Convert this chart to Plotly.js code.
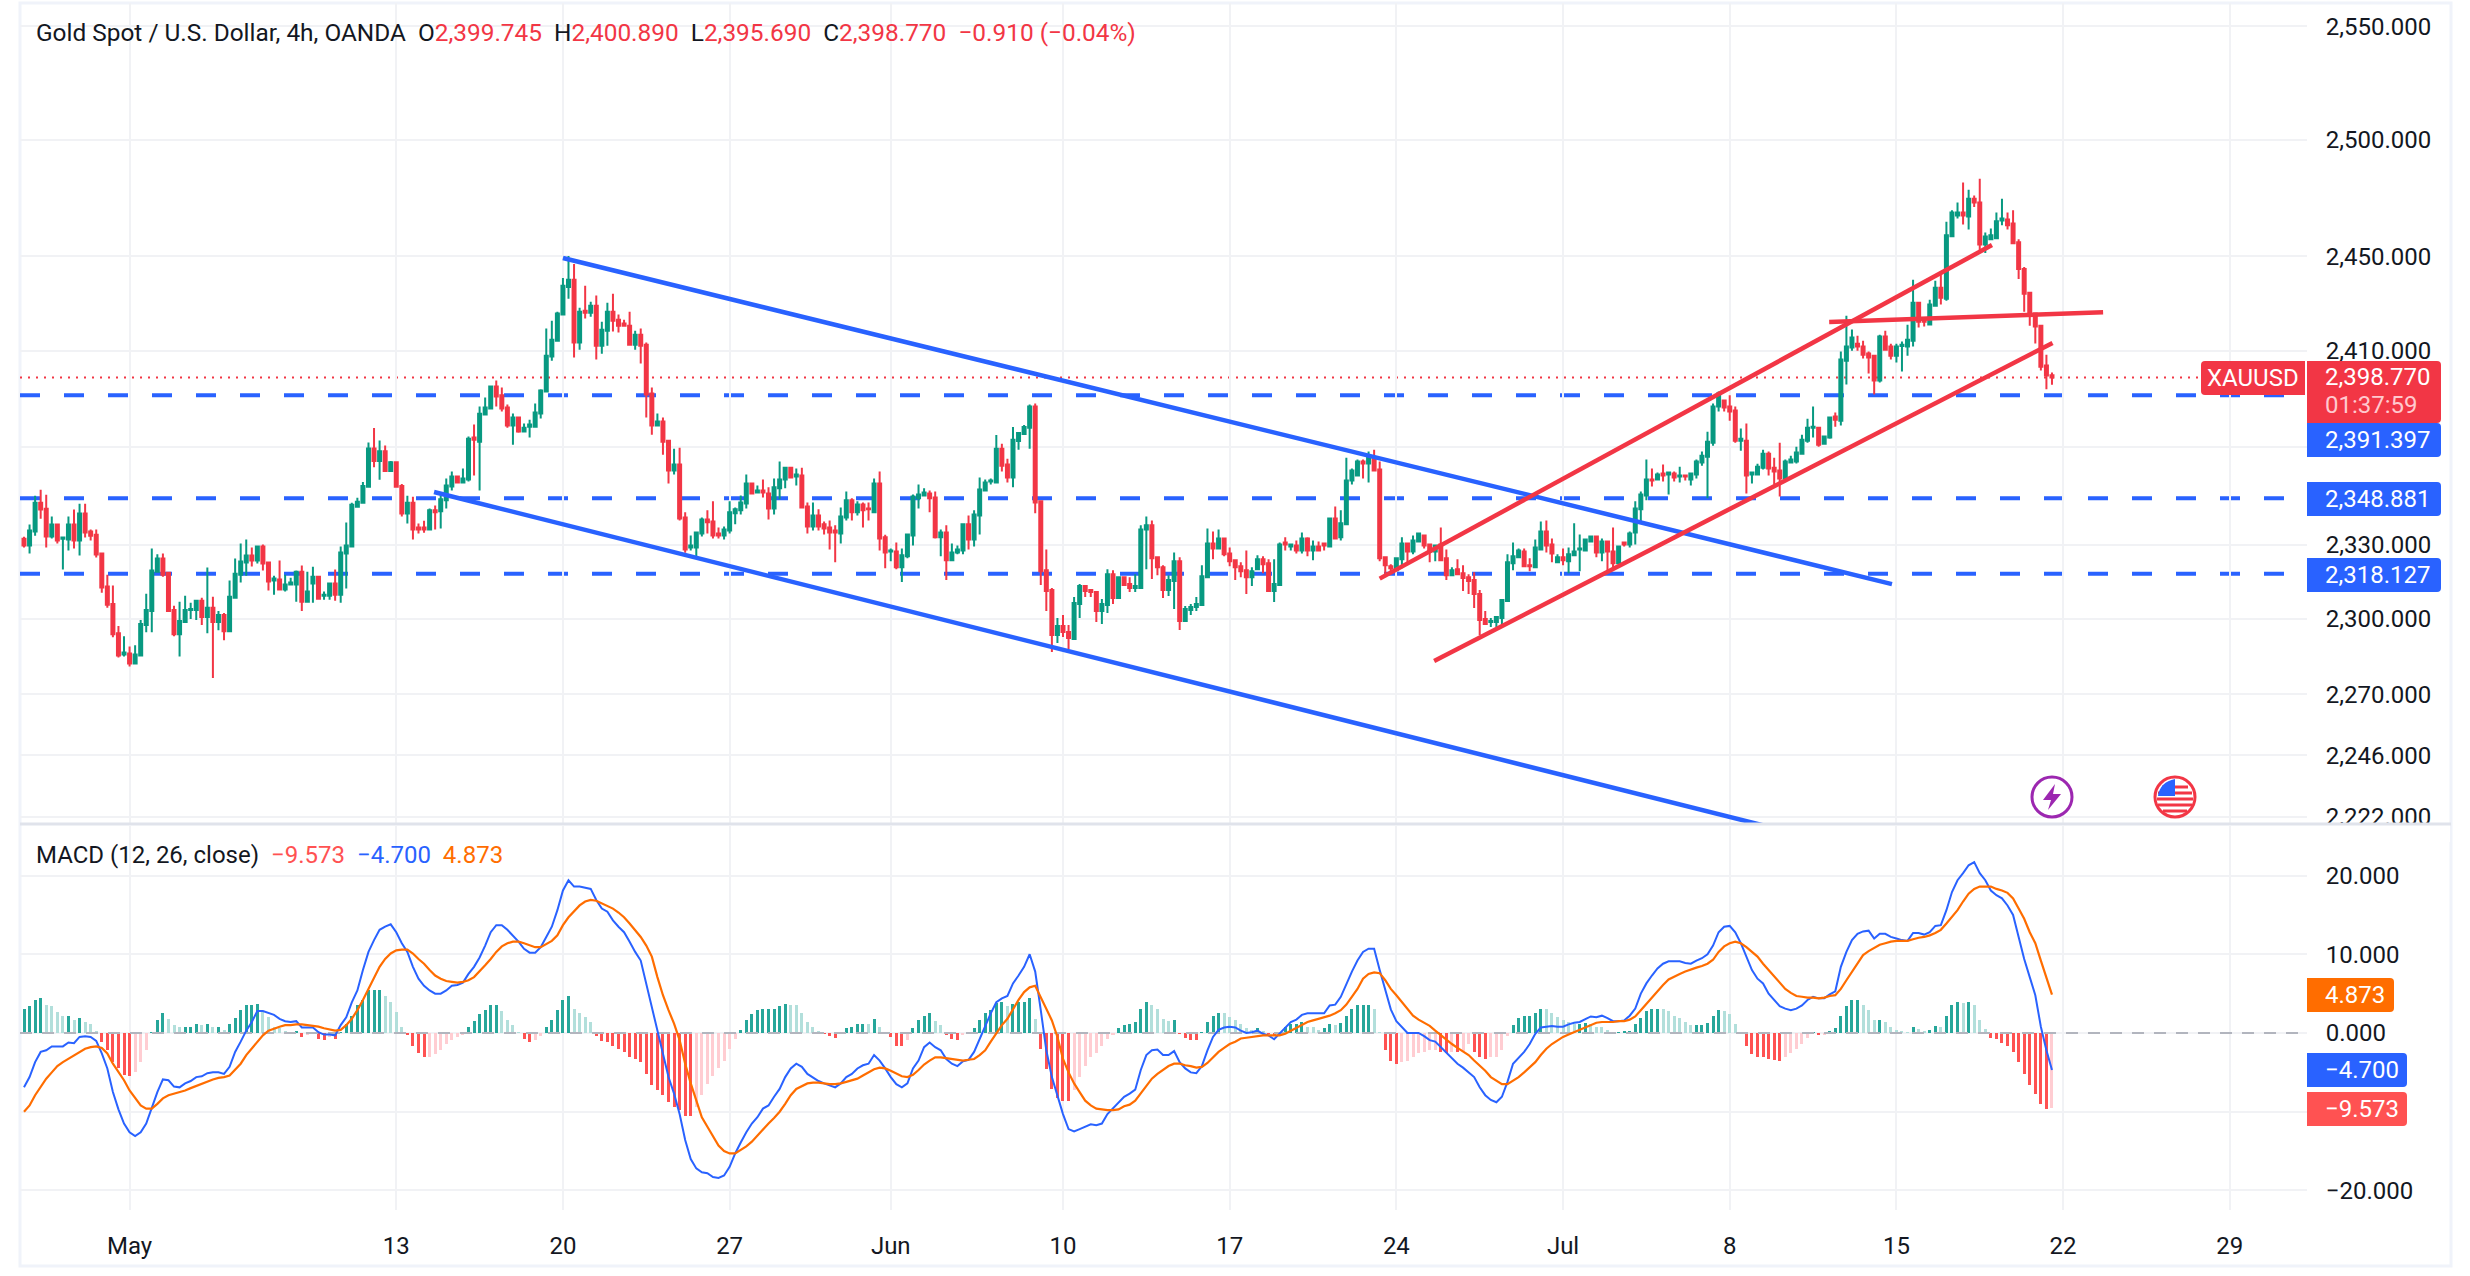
<!DOCTYPE html>
<html><head><meta charset="utf-8">
<script src="https://cdn.plot.ly/plotly-3.0.1.min.js"></script>
<style>html,body{margin:0;padding:0;background:#fff}#c{width:2470px;height:1276px}</style>
</head><body><div id="c"></div>
<script>
const open = [2332.3,2329.6,2335.3,2347,2344.6,2333.2,2338.1,2332.3,2332,2338.1,2331.6,2342.6,2335.3,2334,2326.4,2313,2306,2294.3,2285.8,2286.2,2282.2,2285.4,2297.6,2303.2,2319,2324.3,2318.6,2303.6,2293.9,2298.8,2303.6,2303.6,2307.3,2300.8,2304.5,2298.8,2301.6,2295.1,2308.5,2317.8,2322.7,2325.5,2323.5,2329.2,2322.7,2315.4,2315.8,2311.8,2313.8,2313.8,2319,2306.9,2314.2,2317,2309.3,2309.3,2314.2,2309.7,2326.4,2329.2,2345.4,2347,2353.5,2369.3,2364.1,2368.1,2360,2363.6,2353.9,2342.6,2347,2336.9,
2336.9,2336.1,2343.9,2343.5,2348,2353.7,2357.8,2355.3,2356.5,2373.8,2372.1,2383.3,2385.8,2395,2391.3,2386.3,2378.8,2382.1,2376.3,2378.3,2378.3,2383.8,2392.9,2407.5,2414.2,2425.2,2436.9,2439.9,2413.4,2426.8,2426,2428.9,2412.1,2418.4,2426.4,2423,2421.4,2420.5,2412.5,2416.7,2412.5,2392.1,2378.8,2380.4,2372.5,2360.2,2362.7,2341,2328.8,2328.8,2334.5,2340.2,2339.4,2334.5,2333.7,2335.7,2342.7,2343.9,2346.7,2354.9,2351.2,2352,2350.8,2344.7,2352.9,2356.5,2361.4,2357.8,2358.2,2345.5,
2337.3,2341.8,2338.2,2336.9,2335.7,2334.5,2341,2348,2343.1,2346.3,2344.7,2343.1,2354.9,2332.9,2327.2,2327.2,2320.8,2325.2,2333.7,2348.8,2350,2350.8,2349.2,2332.9,2334.9,2323.6,2326.8,2327.6,2338.2,2332,2341.8,2352,2355.7,2355.3,2369.2,2362.7,2357.3,2372.4,2375.3,2377.9,2386.7,2347.6,2319.6,2311.6,2293.6,2297.2,2294.8,2292,2306,2313.2,2311.6,2310.8,2303.2,2305.6,2318,2308.4,2316.8,2314,2312.4,2312.4,2336.1,2337.8,2324.8,2320.8,2311.6,2315.2,2323.2,2299.2,2303.6,2304.8,2305.6,2316.8,2330.4,2328.4,
2332.4,2326.4,2323.6,2321.2,2319.6,2316.8,2320,2324,2322.4,2311.2,2313.6,2330.8,2329.2,2329.6,2327.6,2332.4,2327.6,2329.2,2330.4,2329.2,2340.6,2332.9,2338.2,2356.1,2358.2,2363.9,2363.1,2365.1,2360.6,2324.8,2321.2,2319.6,2324,2330.4,2327.2,2331.2,2333.7,2330,2327.2,2330,2324.4,2317.6,2320,2318.4,2316.8,2315.6,2310,2300,2298.8,2298.8,2300.4,2307.2,2322.4,2324.8,2327.2,2321.6,2320.8,2328,2335.3,2330,2322.8,2324.8,2323.2,2325.6,2328,2327.6,2331.2,2333.3,2326.8,2331.2,2327.2,2322.4,2330.8,2330,
2334.9,2344.3,2350,2356.5,2356.5,2359,2358.6,2359,2357.8,2358.2,2356.5,2358.6,2363.5,2365.9,2371.7,2386.7,2389.2,2386.7,2385,2372.5,2372.5,2358.6,2358.6,2361.4,2367.1,2361.4,2360.2,2356.9,2363.5,2363.9,2367.1,2372.5,2377.9,2377.9,2371.2,2373.8,2382.5,2380.8,2405.8,2411.3,2412.9,2411.7,2408.8,2407.9,2397.5,2415.9,2411.7,2407.9,2412,2411.7,2414.2,2430.2,2423,2421,2428.9,2436.5,2431.9,2458.5,2467.4,2468.7,2467,2474.6,2473,2455,2457.2,2457.6,2465.2,2465.7,2464,2455.9,2444.5,2434.4,2425.6,2420.5,2403.8,2399.745];
const high = [2333.1,2338.1,2349.9,2352.3,2350.3,2341.4,2338.1,2333.2,2341.4,2344.2,2346.6,2346.6,2336.1,2336.1,2326.4,2317.8,2313.4,2297.2,2293.1,2289,2289.5,2299.6,2310.1,2328.4,2326,2326.4,2319,2305.3,2306.9,2309.3,2306.5,2307.7,2308.5,2320.7,2308.9,2303.2,2302.4,2315.4,2324.3,2330.4,2332,2328.8,2329.6,2330,2323.1,2317.4,2323.5,2317.8,2316.6,2319.5,2321.5,2319,2321,2317.4,2311,2314.6,2319.9,2329.2,2338.9,2347,2349,2355.5,2371.8,2377.8,2372.6,2370.5,2364.1,2363.6,2354.7,2349.9,2349.5,2338.5,
2339.7,2344.7,2345.9,2350,2356.9,2359.8,2357.8,2361,2374.2,2379.2,2386.7,2390.4,2395,2397.5,2394.6,2387.5,2383.8,2382.5,2379.6,2381.2,2387.9,2393.8,2419.3,2422.6,2426.4,2440.7,2450,2446.6,2428.1,2437.4,2430.6,2433.2,2422.2,2430.2,2434,2425.2,2423,2426.4,2418.4,2419.3,2413.4,2394.6,2383.8,2382.1,2372.5,2369.2,2369.6,2343.1,2333.7,2335.3,2341,2343.9,2347.6,2336.9,2337.3,2347.6,2345.1,2350,2358.6,2355.3,2354.1,2356.5,2353.3,2356.9,2363.9,2361.4,2361.4,2361,2361.4,2347.1,
2347.1,2344.3,2339.4,2339.8,2337.8,2345.1,2351.6,2348.8,2347.6,2347.1,2347.1,2356.9,2359.8,2334,2328.4,2330.8,2328.4,2334.5,2350.4,2354.5,2352.9,2352,2351.6,2336.1,2337.8,2330.4,2329.6,2338.2,2341.8,2343.9,2357.3,2356.5,2356.9,2374.9,2371.2,2365.1,2378.2,2376.1,2379,2387.5,2387.9,2347.6,2328,2312.4,2300.4,2301.6,2297.6,2308.8,2314,2313.6,2312,2310.8,2308,2320,2319.6,2317.2,2317.2,2316.8,2318,2337.8,2341.4,2339.8,2324.8,2321.6,2317.6,2326.8,2324.8,2305.2,2306,2308.8,2321.6,2336.5,2335.3,2336.1,
2332.4,2328.8,2323.6,2322.8,2327.6,2320.8,2325.6,2325.2,2324,2324,2330.8,2332.9,2330,2331.6,2334.9,2332.9,2331.6,2331.2,2330.4,2341,2345.5,2343.9,2365.5,2361,2364.7,2364.7,2368,2368.8,2363.9,2325.2,2322,2324.4,2332.9,2330.8,2333.7,2334.5,2334.1,2330.4,2330,2336.9,2328,2320.8,2324,2321.6,2318,2318.8,2311.6,2303.2,2300.4,2301.2,2307.6,2326,2330.8,2328.4,2328.4,2324.4,2332,2339.4,2339.8,2332.4,2326,2328.4,2328.8,2338.6,2334.1,2332.4,2333.7,2333.7,2332.4,2331.6,2336.9,2329.2,2331.2,2335.3,
2347.6,2351.6,2364.7,2361,2359.4,2362.7,2359.8,2359.8,2361.8,2358.6,2359,2364.7,2368,2376.2,2387.9,2392.9,2389.6,2391.3,2386.7,2377.5,2379.6,2359.8,2363,2368.8,2368,2365.5,2371.7,2364.7,2366.3,2370,2375,2381.6,2386.7,2378.3,2374.2,2382.5,2384.2,2409.6,2424.7,2418.9,2416.3,2414.2,2409.6,2407.9,2416.7,2418.4,2412.9,2412.9,2413.8,2420.9,2439.9,2430.2,2423,2431.5,2439.5,2443.7,2464.7,2469.6,2473,2481.6,2478.5,2476,2483.2,2460.1,2461.8,2468.7,2474.6,2468.7,2469.6,2457.2,2445.4,2434.4,2426,2420.9,2408.3,2400.89];
const low = [2328.8,2326.4,2333.6,2340.5,2328.8,2332.4,2330.4,2319.9,2327.6,2328.4,2325.5,2332.8,2331.6,2324.7,2310.5,2304.5,2292.7,2284.6,2285,2281,2282.2,2285.4,2294.7,2294.7,2319,2317,2302.8,2293.1,2285,2298.8,2300,2299.6,2297.6,2294.3,2276.5,2295.5,2291.5,2295.1,2308.5,2314.6,2317.4,2321.1,2322.3,2319.5,2311.4,2309.7,2311.8,2311,2313.8,2306.9,2303.2,2306.9,2306.5,2307.7,2307.7,2307.7,2307.3,2306.5,2312.2,2329.2,2345,2347,2353.5,2361.6,2356.4,2359.6,2359.6,2353.5,2341.4,2338.5,2332,2334.5,
2334.8,2336.1,2336.1,2336.5,2344.7,2352,2354.9,2354.9,2355.7,2358.2,2352,2383.3,2385.8,2386.7,2384.6,2377.9,2370.8,2375.8,2376.3,2373.8,2378.3,2381.7,2392.9,2405.8,2414.2,2425.2,2431.9,2407.1,2410.4,2423.5,2424.3,2406.3,2408.7,2412.1,2418,2417.6,2420.5,2412.1,2410.4,2404.6,2382.1,2375,2378.8,2366.7,2354.9,2358.6,2339.8,2326.7,2327.6,2325.1,2333.3,2334.5,2332.4,2332.4,2332,2334.5,2338.2,2342.2,2344.7,2350.8,2350.8,2349.2,2340.2,2342.2,2348.4,2352.9,2357.3,2354.1,2345.1,2334.5,
2335.7,2335.7,2334.1,2328,2322.8,2330.4,2339.8,2339.8,2341.8,2336.9,2339.8,2343.1,2327.6,2320.4,2323.2,2320,2314.8,2324.4,2329.6,2344.7,2349.6,2343.1,2332.4,2325.2,2315.6,2323.6,2326,2326,2328,2329.2,2334.1,2351.6,2354.5,2355.3,2359.8,2355.3,2353.3,2368.8,2375.3,2369.2,2342.7,2313.6,2303.2,2286.8,2290.4,2292.8,2288,2292,2300.4,2308.8,2308.8,2298.8,2298,2302.4,2306,2308,2313.6,2310.8,2310.8,2312.4,2320,2316,2317.6,2308.4,2309.2,2304,2295.6,2299.2,2301.6,2303.2,2305.6,2316.8,2324,2328.4,
2325.2,2321.2,2315.6,2316.8,2310,2313.2,2319.6,2318.4,2310.8,2306.8,2313.6,2327.6,2327.6,2326.4,2326.4,2325.2,2323.6,2327.6,2327.6,2329.2,2332.4,2331.6,2338.2,2354.5,2358.2,2356.9,2355.3,2360.2,2323.2,2317.2,2318,2319.2,2320.4,2322.4,2326,2331.2,2328.4,2322.8,2323.2,2323.6,2315.6,2317.2,2318,2311.2,2310,2304.4,2293.6,2297.6,2296.8,2296.8,2296.8,2307.2,2319.6,2324.8,2321.2,2319.2,2320.8,2327.6,2326.8,2322.8,2322.4,2321.6,2318.4,2325.6,2319.2,2327.2,2331.2,2324.8,2323.2,2318.8,2320,2322,2329.2,2328.8,
2330,2339.4,2348,2353.7,2356.1,2355.7,2350.4,2355.7,2355.3,2356.1,2354.1,2356.9,2362.2,2348.8,2370.4,2384.6,2384.6,2380.8,2371.7,2368.4,2350.8,2354.9,2358.6,2360.6,2358.2,2354.5,2349.6,2356.9,2363.1,2363.1,2367.1,2371.7,2373.8,2370,2371.2,2373.3,2378.3,2378.8,2395.8,2410,2410,2406.7,2400.4,2391.7,2396.7,2410.4,2406.3,2405,2401.3,2407.9,2411.7,2419.7,2420.1,2421,2428.9,2429.4,2431,2458.5,2466.1,2463.5,2461.4,2471,2452.6,2451.3,2457.2,2457.6,2463.2,2461.4,2455.5,2440.3,2426.4,2420.5,2413,2401.7,2393.8,2395.69];
const close = [2329.6,2335.7,2347,2344.2,2333.2,2338.1,2331.6,2332.8,2338.1,2331.6,2342.6,2334.9,2333.6,2325.9,2312.6,2305.7,2293.9,2285.4,2286.6,2282.2,2285.8,2298,2303.6,2319.5,2324.3,2317.8,2303.2,2293.9,2299.2,2303.6,2304,2307.3,2300.8,2304.5,2298.8,2301.6,2295.1,2308.9,2318.2,2323.1,2325.5,2323.5,2329.2,2322.3,2315,2316.2,2311.8,2313.8,2314.6,2319,2306.9,2311,2317,2308.1,2309.7,2314.2,2309.7,2326.8,2329.6,2346.2,2347.4,2353.9,2369.3,2364.1,2368.1,2360,2363.6,2353.5,2342.6,2347,2336.1,2336.1,
2336.1,2343.9,2343.1,2348.4,2354.1,2357.8,2355.3,2356.9,2373.3,2372.9,2383.7,2386.3,2395,2390.8,2385.8,2378.8,2382.1,2376.3,2377.9,2379.2,2384.2,2393.3,2407.9,2414.6,2425.6,2437.4,2439.9,2413.4,2426.4,2426,2428.9,2412.1,2418.8,2426.4,2422.6,2420.5,2420.5,2412.5,2416.7,2412.1,2391.7,2378.8,2380.4,2372.1,2360.2,2362.7,2340.6,2328,2329.6,2334.9,2340.2,2339,2333.7,2333.7,2336.1,2343.1,2344.3,2347.1,2354.9,2350.8,2352,2351.2,2344.7,2353.3,2356.5,2361.4,2357.3,2358.6,2345.1,2337.3,
2341.8,2337.3,2336.5,2334.9,2334.9,2341.4,2348,2343.1,2346.3,2343.9,2344.3,2354.9,2332.4,2326.8,2327.6,2320.8,2325.6,2334.1,2349.6,2350.4,2351.2,2348.8,2332.9,2334.9,2323.6,2326.8,2328,2338.2,2332,2342.2,2352.4,2355.3,2356.1,2369.2,2362.2,2357.3,2372.9,2375.7,2378.2,2386.7,2347.1,2319.2,2311.2,2293.6,2297.2,2294.8,2292.4,2306.4,2313.2,2311.2,2310.8,2303.2,2306,2318,2308.4,2316.8,2313.6,2312.4,2313.2,2336.1,2337.8,2324.4,2320.8,2311.6,2315.6,2323.2,2299.2,2304,2304.8,2306,2317.2,2330.4,2328.4,2332.4,
2326,2323.2,2320.8,2319.2,2316.8,2319.2,2324,2322,2311.2,2314,2330,2330,2330,2327.6,2332.4,2327.6,2329.2,2327.6,2329.6,2340.6,2332.4,2338.6,2356.1,2360.2,2363.9,2363.1,2365.5,2360.2,2324.4,2321.6,2320.4,2324.4,2330.4,2327.2,2331.6,2334.5,2329.6,2327.2,2329.6,2323.6,2317.6,2319.6,2318,2316.4,2315.2,2310,2299.6,2298,2299.2,2300.8,2307.6,2322.8,2325.2,2327.6,2321.2,2321.2,2328.8,2335.3,2329.6,2326.4,2324.8,2323.6,2326,2327.2,2328.4,2332,2333.3,2326.8,2331.2,2327.2,2322.4,2329.2,2330,2334.5,
2344.7,2350.4,2356.5,2356.1,2358.6,2358.2,2359.4,2357.3,2358.2,2357.8,2359,2363.9,2366.3,2372.1,2386.7,2392.1,2386.3,2384.6,2372.5,2373.3,2358.2,2359.4,2361.8,2367.1,2361,2359.8,2356.9,2363.9,2364.7,2367.6,2372.9,2377.9,2378.3,2370.8,2374.2,2382.1,2381.2,2406.3,2411.7,2415.5,2411.7,2408.3,2407.1,2397.5,2415.9,2410.4,2407.9,2411.7,2412.5,2414.6,2430.2,2422.2,2422.2,2429.4,2436.5,2432.3,2458.9,2468.7,2468.7,2467.4,2474.6,2473,2455,2458.4,2458.9,2464.9,2466.1,2463.2,2455.5,2444.5,2434,2425.6,2420.1,2403.3,2399.6,2398.77];
const macdLine = [-6.9,-5.6,-3.7,-2.4,-2.2,-1.7,-1.7,-1.7,-1.2,-1.3,-.5,-.4,-.5,-1,-2.6,-4.5,-7.5,-9.7,-11.5,-12.6,-13.1,-12.6,-11.5,-9.4,-7.5,-5.9,-6,-6.8,-6.9,-6.4,-6.1,-5.6,-5.5,-5.1,-5,-5,-5.2,-4.3,-2.4,-1.1,.3,1.4,2.8,2.8,2.5,2.3,1.8,1.5,1.4,1.5,.7,.7,.7,.1,-.2,-.2,-.3,1,2,3.9,5.4,8,10.3,11.8,13.1,13.5,13.8,12.8,11.4,10.3,8.4,6.9,6,5.4,5,5,5.4,6,6.1,6.4,7.5,8.4,9.6,11.1,12.8,13.7,13.7,13.1,12.4,11.6,10.7,10.2,10.2,10.9,12.2,13.5,15.6,18.1,19.4,18.6,18.6,18.4,18.3,16.9,15.8,15.4,14.3,13.5,12.8,11.6,10.3,9.2,6.3,3.3,.3,-2.6,-5.6,-7.7,-10.3,-13.6,-16,-17.2,-17.7,-17.8,-18.3,-18.4,-18.1,-17,-15.3,-13.9,-12.6,-11.5,-10.7,-9.6,-9.2,-8.1,-7.1,-5.6,-4.5,-3.9,-4.3,-5.2,-5.7,-6.1,
-6.4,-6.7,-6.9,-6.4,-5.6,-5.2,-4.5,-4.1,-3.9,-2.8,-3.5,-4.5,-5.6,-6.5,-6.9,-6.4,-4.5,-3.5,-1.8,-1.2,-1.8,-2.2,-3.3,-3.9,-4.2,-3.6,-3.4,-2.4,-.7,.8,2.5,3.9,4.4,4.7,6.3,7.3,8.4,10,7.8,2.9,-2.2,-5.6,-8.1,-10.3,-12.2,-12.5,-12.2,-11.9,-11.6,-11.7,-11.5,-10.3,-9.6,-8.8,-8.1,-7.7,-7.2,-4.7,-2.8,-2.2,-2.1,-2.8,-2.8,-2.3,-3.7,-4.5,-5,-5.1,-4.2,-2.2,-.5,.4,.7,.8,.7,.3,0,.1,.3,-.1,-.3,-.8,-.1,.6,1.4,1.7,2.3,2.5,2.5,2.5,2.5,3.5,3.6,4.6,6.3,7.8,9.2,10.3,10.7,10.7,8,5.4,3,1.5,.8,0,0,0,-.4,-.9,-1.1,-1.8,-2.5,-3.3,-3.9,-4.4,-5,-5.6,-6.9,-7.9,-8.5,-8.8,-8.1,-6.2,-3.9,-3.1,-2.4,-1.4,-.1,.7,.8,.9,.8,.8,1.1,1.3,1.4,1.7,2.1,2,2.2,1.9,1.5,1.5,
1.6,2.2,3.1,5,6.3,7.3,8.2,8.8,9.1,9.1,9.1,8.9,8.8,9.2,9.5,10,11.1,12.8,13.5,13.6,12.8,11.4,9.7,8,6.9,6.3,5,4.2,3.4,3.1,2.9,3.1,3.5,4.2,4.6,4.4,4.4,4.9,5.3,8.4,10.3,11.8,12.6,12.9,13,12,12.6,12.6,12.2,12,11.8,11.7,12.7,12.7,12.5,12.8,13.6,13.7,15.6,17.9,19.4,20.3,21.3,21.7,20.3,19.4,18.1,17.5,17.1,16.2,15,12.2,9.4,7.1,4.8,.8,-2.2,-4.7];
const signalLine = [-10,-9.2,-7.9,-6.8,-5.8,-5,-4.2,-3.7,-3.3,-2.8,-2.4,-2,-1.8,-1.7,-1.9,-2.6,-3.9,-5,-6,-7.3,-8.3,-9.2,-9.6,-9.6,-9,-8.3,-7.9,-7.7,-7.5,-7.3,-7,-6.7,-6.4,-6.2,-5.9,-5.7,-5.6,-5.4,-4.7,-3.9,-2.8,-2,-1.1,-.3,.3,.6,.8,1,1,1.1,1.1,1,.9,.8,.6,.4,.3,.4,1,1.8,2.9,4.2,5.6,6.9,8.4,9.4,10.1,10.5,10.6,10.6,10.1,9.4,8.8,8,7.3,6.9,6.6,6.5,6.4,6.5,6.7,7.1,7.8,8.6,9.4,10.3,11,11.4,11.6,11.6,11.4,11.1,10.9,10.9,11.3,11.7,12.4,13.7,14.7,15.5,16.2,16.7,16.9,16.8,16.5,16.2,15.8,15.3,14.7,13.9,13,12.2,11.1,9.7,7.1,4.8,2.9,1.2,-.9,-3.9,-6.4,-8.6,-10.7,-11.9,-13.2,-14.3,-15,-15.3,-15.3,-14.9,-14.4,-13.8,-13,-12.2,-11.5,-10.8,-10,-9,-7.9,-7.1,-6.7,-6.4,-6.3,-6.3,
-6.4,-6.5,-6.5,-6.4,-6.2,-6,-5.8,-5.4,-5,-4.6,-4.4,-4.5,-4.8,-5.2,-5.5,-5.6,-5.3,-4.7,-4,-3.5,-3.1,-3.1,-3.2,-3.3,-3.4,-3.5,-3.4,-3.3,-2.8,-2.2,-1.1,-.1,1,1.8,3.1,4.2,5.2,5.8,6,4.6,3.1,1.6,-.5,-3.3,-5,-6.4,-7.5,-8.6,-9.2,-9.6,-9.7,-9.8,-9.8,-9.7,-9.3,-9.1,-8.6,-7.7,-6.7,-5.8,-5.2,-4.7,-4.2,-3.9,-3.9,-4.1,-4.2,-4.4,-4.3,-3.8,-3.1,-2.4,-1.9,-1.4,-1.1,-.7,-.6,-.5,-.4,-.3,-.3,-.3,-.3,-.1,.3,.7,1,1.4,1.6,1.8,2,2.2,2.5,2.9,3.6,4.6,5.6,6.9,7.5,7.7,7.6,6.7,5.6,4.8,3.9,3.1,2.2,1.7,1.3,.9,.3,-.3,-.8,-1.4,-1.9,-2.3,-2.8,-3.5,-4.1,-4.8,-5.6,-6.1,-6.5,-6.5,-6.1,-5.6,-5,-4.4,-3.7,-2.8,-2,-1.4,-.9,-.5,-.2,.1,.4,.8,1.1,1.3,1.4,1.4,1.4,1.5,
1.5,1.7,2.1,2.9,3.7,4.6,5.3,6.1,6.8,7.2,7.5,7.8,8.1,8.3,8.5,8.8,9.3,10.3,11,11.4,11.6,11.4,10.9,10.3,9.7,8.8,8,7.1,6.4,5.6,5.1,4.7,4.6,4.5,4.5,4.4,4.5,4.7,4.8,5.6,6.7,7.8,8.8,9.9,10.4,10.8,11.2,11.4,11.6,11.7,11.7,11.7,11.9,12.1,12.2,12.4,12.7,13.1,13.9,14.7,15.6,16.7,17.7,18.3,18.6,18.6,18.6,18.3,18.1,17.8,17.1,15.8,14.5,12.8,11.4,9.2,6.9,4.873];
const histogram = [3,3.4,4.2,4.4,3.6,3.4,2.7,2.1,2.1,1.6,1.9,1.4,1.1,.3,-1.1,-2.2,-3.7,-4.5,-5.3,-5.5,-5,-3.7,-2.2,.1,1.7,2.5,1.8,1,.7,.8,.8,1.2,1,1.1,.8,.8,.4,1.1,1.9,2.9,3.5,3.6,3.7,2.7,2,.8,.6,.3,.1,.3,-.5,-.3,-.1,-.7,-.9,-.5,-.8,.1,1.2,2.2,3.5,4.2,5.4,5.5,5.5,4.7,3.9,2.7,.8,-.3,-1.7,-2.5,-3.1,-3,-2.7,-2.2,-1.4,-.9,-.5,-.3,.8,1.5,2.4,2.9,3.5,3.5,2.8,1.7,1,.1,-.7,-1.2,-.9,-.4,.8,1.7,2.9,4.2,4.7,3,2.5,2,1.4,-.4,-1,-1.1,-1.6,-2,-2.4,-3.1,-3.3,-3.7,-5.2,-6.6,-7.3,-7.9,-8.8,-9.4,-9.8,-10.5,-10.5,-9.4,-7.9,-6.5,-5.5,-4.5,-3.5,-2,-.7,.4,1.7,2.4,2.9,3,3,3.1,3.4,3.7,3.6,3.5,2.5,1.4,.8,.3,
-.1,-.4,-.6,.1,.6,.8,1.1,1.2,1.1,1.8,.8,.1,-.5,-1.6,-1.6,-.9,.6,1.6,2.2,2.5,1.5,1,-.3,-.7,-.9,-.3,.1,.6,1.7,2.5,2.9,3.8,3.9,3.4,3.7,3.9,4,4.4,1.8,-2,-4.6,-7.1,-8.3,-8.6,-8.6,-7.3,-5.6,-4.2,-3.1,-2.6,-1.7,-.7,-.2,.6,1,1.2,1.4,3,4,3.6,3,1.8,1.5,1.6,-.1,-.6,-.9,-.9,.1,1.4,2.1,2.6,2.5,2,1.6,1.2,.6,.4,.6,.3,-.1,-.4,-.1,.8,1.1,1.2,1.4,.8,.7,.4,.6,1.2,1,1.3,2.2,3.1,3.6,3.6,3.6,3,.1,-2.1,-3.5,-4,-3.7,-3.6,-3.1,-2.5,-2.4,-2.2,-2.1,-2.4,-2.5,-2.4,-2.4,-2.3,-1.4,-2.4,-3.1,-3.3,-3.1,-3,-2.1,-.4,1,1.9,2.1,2.1,2.5,3.1,3,2.5,2,1.6,1.4,1.2,1.2,1.3,1.2,.8,.7,.4,.1,.1,
.2,.3,1.2,1.9,2.8,3,3.1,3,2.8,2.2,1.9,1.4,1,1,1,1.3,2.1,2.9,2.8,2.4,1.1,.1,-1.7,-2.7,-3,-3.1,-3.3,-3.4,-3.5,-3.1,-2.5,-2,-1.4,-.6,.1,-.3,-.2,.3,.6,2.2,3.4,4.2,4.2,3.6,2.9,1.6,1.7,1.4,.8,.4,.2,.1,.8,.5,.3,.4,.9,.8,2.2,3.5,4,3.8,3.9,3.5,1.7,.5,-.6,-.8,-1.3,-1.6,-2.4,-3.7,-5.2,-6.6,-7.7,-9,-9.7,-9.573];
const barIndex = open.map((_, i) => i);
const priceTickVals = [2222,2246,2270,2300,2330,2370,2410,2450,2500,2550];
const priceTickText = ['2,222.000','2,246.000','2,270.000','2,300.000','2,330.000','','2,410.000','2,450.000','2,500.000','2,550.000'];
const macdTickVals = [-20,-10,0,10,20];
const macdTickText = ['\u221220.000','','0.000','10.000','20.000'];
const timeTickVals = [19,67,97,127,156,187,217,247,277,307,337,367,397];
const timeTickText = ['May','13','20','27','Jun','10','17','24','Jul','8','15','22','29'];
const levels = [2391.397,2348.881,2318.127];
const lastPrice = 2398.77;
const blueTrend1X=[97,336.2], blueTrend1Y=[2449.2,2314];
const blueTrend2X=[73.8,319.7], blueTrend2Y=[2351.4,2215.2];
const redTopX=[244,354.2], redTopY=[2316.2,2454.7];
const redLowX=[253.8,365.1], redLowY=[2283.2,2413.2];
const redHorizX=[324.9,374.2], redHorizY=[2422,2426.2];

const GREEN='#089981', RED='#F23645', BLUE='#2962FF', ORANGE='#FF6D00', HRED='#FF5252', INK='#131722';
const FONT='Roboto, sans-serif', FS=24;
const L=20,R=2307,T=3,B=1210;
const px=x=>(x-L)/(R-L), py=y=>(B-y)/(B-T);
const histColors=histogram.map((h,i)=>{const p=i?histogram[i-1]:h;return h>=0?(h>=p?'#26A69A':'#B2DFDB'):(h<=p?HRED:'#FFCDD2');});
const line=(x,y,c)=>({type:'scatter',mode:'lines',x,y,line:{color:c,width:4.5},xaxis:'x',yaxis:'y',hoverinfo:'skip'});
const traces=[
 {type:'candlestick',x:barIndex,open,high,low,close,xaxis:'x',yaxis:'y',whiskerwidth:0,hoverinfo:'skip',
  increasing:{line:{color:GREEN,width:2},fillcolor:GREEN},decreasing:{line:{color:RED,width:2},fillcolor:RED}},
 line(blueTrend1X,blueTrend1Y,BLUE),line(blueTrend2X,blueTrend2Y,BLUE),
 line(redTopX,redTopY,RED),line(redLowX,redLowY,RED),line(redHorizX,redHorizY,RED),
 {type:'bar',x:barIndex,y:histogram,xaxis:'x',yaxis:'y2',width:0.54,marker:{color:histColors,line:{width:0}},hoverinfo:'skip'},
 {type:'scatter',mode:'lines',x:[-0.72,410.9],y:[0,0],xaxis:'x',yaxis:'y2',line:{color:'#B2B5BE',width:2,dash:'12px,10px'},hoverinfo:'skip'},
 {type:'scatter',mode:'lines',x:barIndex,y:macdLine,xaxis:'x',yaxis:'y2',line:{color:BLUE,width:2},hoverinfo:'skip'},
 {type:'scatter',mode:'lines',x:barIndex,y:signalLine,xaxis:'x',yaxis:'y2',line:{color:ORANGE,width:2.2},hoverinfo:'skip'}
];
const shapes=[];
const ann=[];
levels.forEach(v=>shapes.push({type:'line',xref:'x',yref:'y',x0:-0.72,x1:407,y0:v,y1:v,layer:'below',line:{color:BLUE,width:4,dash:'20px,24px'}}));
shapes.push({type:'line',xref:'x',yref:'y',x0:-0.72,x1:410.9,y0:lastPrice,y1:lastPrice,layer:'below',line:{color:RED,width:2,dash:'2px,6px'}});
function rect(x0,x1,y0,y1,color,rl,rr){
  const X=px,Y=py,r=4;
  const d=`M ${X(x0+(rl?r:0))} ${Y(y0)} L ${X(x1-(rr?r:0))} ${Y(y0)} `+(rr?`Q ${X(x1)} ${Y(y0)} ${X(x1)} ${Y(y0+r)} L ${X(x1)} ${Y(y1-r)} Q ${X(x1)} ${Y(y1)} ${X(x1-r)} ${Y(y1)} `:`L ${X(x1)} ${Y(y1)} `)+
   `L ${X(x0+(rl?r:0))} ${Y(y1)} `+(rl?`Q ${X(x0)} ${Y(y1)} ${X(x0)} ${Y(y1-r)} L ${X(x0)} ${Y(y0+r)} Q ${X(x0)} ${Y(y0)} ${X(x0+r)} ${Y(y0)} `:`L ${X(x0)} ${Y(y0)} `)+'Z';
  shapes.push({type:'path',xref:'paper',yref:'paper',path:d,fillcolor:color,line:{width:0},layer:'above'});
}
function label(x,y,text,color,size,anchor){
  ann.push({xref:'paper',yref:'paper',x:px(x),y:py(y),text,showarrow:false,xanchor:anchor||'left',yanchor:'middle',align:'left',
    font:{family:FONT,size:size||FS,color:color||INK},borderpad:0,borderwidth:0});
}
// frame
shapes.push({type:'rect',xref:'paper',yref:'paper',x0:px(20),x1:px(2451),y0:py(3),y1:py(1266),line:{color:'#F0F3FA',width:3},layer:'below'});
rect(2308,2450,825,842,'#FFFFFF');
shapes.push({type:'line',xref:'paper',yref:'paper',x0:px(20),x1:px(2451),y0:py(824),y1:py(824),line:{color:'#E0E3EB',width:3},layer:'above'});
// header
const s=(c,t)=>`<span style="color:${c}">${t}</span>`;
label(36,33,`Gold Spot / U.S. Dollar, 4h, OANDA  O${s(RED,'2,399.745')}  H${s(RED,'2,400.890')}  L${s(RED,'2,395.690')}  C${s(RED,'2,398.770')}  ${s(RED,'\u22120.910 (\u22120.04%)')}`,INK,24.4);
label(36,855,`MACD (12, 26, close)  ${s(HRED,'\u22129.573')}  ${s(BLUE,'\u22124.700')}  ${s(ORANGE,'4.873')}`);
// price flags
rect(2201,2305,361,395,RED,true,false);
label(2253,378,'XAUUSD','#FFFFFF',FS,'center');
rect(2307,2441,361,423,RED,false,true);
label(2325,377,'2,398.770','#FFFFFF');
label(2325,405,'01:37:59','#FFC9CE');
rect(2307,2441,423,457,BLUE,false,true); label(2325,440,'2,391.397','#FFFFFF');
rect(2307,2441,482,516,BLUE,false,true); label(2325,499,'2,348.881','#FFFFFF');
rect(2307,2441,558,592,BLUE,false,true); label(2325,575,'2,318.127','#FFFFFF');
rect(2307,2394,978,1012,ORANGE,false,true); label(2325,995,'4.873','#FFFFFF');
rect(2307,2407,1053,1087,BLUE,false,true); label(2325,1070,'\u22124.700','#FFFFFF');
rect(2307,2407,1092,1126,HRED,false,true); label(2325,1109,'\u22129.573','#FFFFFF');
// event icons
const icy=797, lx=2052, fx=2175;
shapes.push({type:'circle',xref:'paper',yref:'paper',x0:px(lx-20),x1:px(lx+20),y0:py(icy+20),y1:py(icy-20),fillcolor:'#FFFFFF',line:{color:'#9C27B0',width:3},layer:'above'});
shapes.push({type:'path',xref:'paper',yref:'paper',path:`M ${px(lx+3)} ${py(icy-13)} L ${px(lx-9)} ${py(icy+3)} L ${px(lx-1)} ${py(icy+3)} L ${px(lx-4)} ${py(icy+13)} L ${px(lx+9)} ${py(icy-3)} L ${px(lx+1)} ${py(icy-3)} Z`,fillcolor:'#9C27B0',line:{width:0},layer:'above'});
shapes.push({type:'circle',xref:'paper',yref:'paper',x0:px(fx-20),x1:px(fx+20),y0:py(icy+20),y1:py(icy-20),fillcolor:'#FFFFFF',line:{color:RED,width:3},layer:'above'});
[[-10,13],[-4,17],[2,18],[8,17],[14,12]].forEach(([d,h])=>shapes.push({type:'line',xref:'paper',yref:'paper',x0:px(fx-h),x1:px(fx+h),y0:py(icy+d),y1:py(icy+d),line:{color:RED,width:3},layer:'above'}));
shapes.push({type:'path',xref:'paper',yref:'paper',path:`M ${px(fx)} ${py(icy-18)} L ${px(fx)} ${py(icy-1)} L ${px(fx-17)} ${py(icy-1)} Q ${px(fx-15)} ${py(icy-15)} ${px(fx)} ${py(icy-18)} Z`,fillcolor:'#2962FF',line:{width:0},layer:'above'});

const layout={
  width:2470,height:1276,paper_bgcolor:'#fff',plot_bgcolor:'#fff',showlegend:false,dragmode:false,
  margin:{l:L,r:2470-R,t:T,b:1276-B,pad:0},font:{family:FONT,size:FS,color:INK},
  boxgap:0.46,boxgroupgap:0,bargap:0,
  xaxis:{type:'linear',range:[-0.72,410.9],anchor:'y2',tickmode:'array',tickvals:timeTickVals,ticktext:timeTickText,
    showgrid:true,gridcolor:'#F1F2F5',gridwidth:2,zeroline:false,showline:false,ticks:'outside',ticklen:14,tickcolor:'rgba(0,0,0,0)',
    tickfont:{family:FONT,size:FS,color:INK},rangeslider:{visible:false},fixedrange:true},
  yaxis:{type:'log',range:[Math.log10(2219.7),Math.log10(2560.4)],domain:[(B-823)/(B-T),1],anchor:'x',side:'right',
    tickmode:'array',tickvals:priceTickVals,ticktext:priceTickText,showgrid:true,gridcolor:'#F1F2F5',gridwidth:2,zeroline:false,showline:false,
    ticks:'outside',ticklen:13,tickcolor:'rgba(0,0,0,0)',tickfont:{family:FONT,size:FS,color:INK},fixedrange:true},
  yaxis2:{type:'linear',range:[-22.48,26.29],domain:[0,(B-826)/(B-T)],anchor:'x',side:'right',
    tickmode:'array',tickvals:macdTickVals,ticktext:macdTickText,showgrid:true,gridcolor:'#F1F2F5',gridwidth:2,zeroline:false,showline:false,
    ticks:'outside',ticklen:13,tickcolor:'rgba(0,0,0,0)',tickfont:{family:FONT,size:FS,color:INK},fixedrange:true},
  shapes,annotations:ann
};
Plotly.newPlot('c',traces,layout,{displayModeBar:false,staticPlot:true});
</script></body></html>
